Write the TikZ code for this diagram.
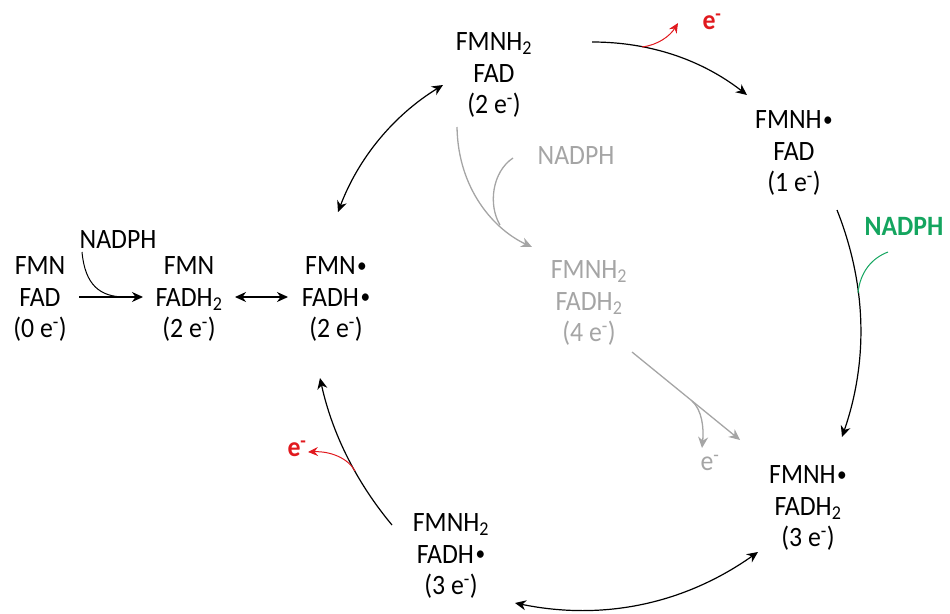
\documentclass[tikz,border=0pt]{standalone}
\usepackage{fontspec}
\setmainfont{Carlito}[FakeStretch=0.92]
\usetikzlibrary{arrows.meta}
\definecolor{myred}{RGB}{225,25,30}
\definecolor{mygreen}{RGB}{20,165,95}
\definecolor{mygrey}{RGB}{165,165,165}
\newcommand{\rdot}{\hspace{1.5pt}\raisebox{2.5pt}{\fontsize{21}{21}\selectfont •}}
\begin{document}
\begin{tikzpicture}[x=1pt,y=-1pt,
  sp/.style={align=center, inner sep=0pt, font=\fontsize{28}{31.5}\selectfont},
  lab/.style={inner sep=0pt, font=\fontsize{28}{31.5}\selectfont},
  tip/.tip={Stealth[length=11pt,width=10pt,inset=3.5pt]},
  arr/.style={line width=1.2pt, -tip},
  darr/.style={line width=1.2pt, tip-tip},
  branch/.style={line width=1pt},
  redarr/.style={line width=1pt, myred, -{Stealth[length=10pt,width=9pt,inset=3.5pt]}},
  greyarr/.style={line width=1.3pt, mygrey, -tip},
]
\useasboundingbox (0,0) rectangle (950,613);

% species
\node[sp] (A) at (40,299) {FMN\\FAD\\(0 e\textsuperscript{-})};
\node[sp] (B) at (189,299) {FMN\\FADH\textsubscript{2}\\(2 e\textsuperscript{-})};
\node[sp] (C) at (336,299) {FMN\rdot\\FADH\rdot\\(2 e\textsuperscript{-})};
\node[sp] (D) at (494,75) {FMNH\textsubscript{2}\\FAD\\(2 e\textsuperscript{-})};
\node[sp] (E) at (794,153) {FMNH\rdot\\FAD\\(1 e\textsuperscript{-})};
\node[sp,text=mygrey] (F) at (589,303) {FMNH\textsubscript{2}\\FADH\textsubscript{2}\\(4 e\textsuperscript{-})};
\node[sp] (G) at (808,508) {FMNH\rdot\\FADH\textsubscript{2}\\(3 e\textsuperscript{-})};
\node[sp] (H) at (451,556) {FMNH\textsubscript{2}\\FADH\rdot\\(3 e\textsuperscript{-})};

% labels
\node[lab] (n1) at (118,240) {NADPH};
\node[lab,text=mygrey] (n2) at (576,156) {NADPH};
\node[lab,text=mygreen,font=\fontsize{28}{31.5}\selectfont\bfseries] (n3) at (904,226) {NADPH};
\node[lab,text=myred,font=\fontsize{28}{31.5}\selectfont\bfseries] (e1) at (712,22) {e\textsuperscript{-}};
\node[lab,text=myred,font=\fontsize{28}{31.5}\selectfont\bfseries] (e2) at (297,449) {e\textsuperscript{-}};
\node[lab,text=mygrey] (e3) at (710,463) {e\textsuperscript{-}};

% connector end points
\coordinate (a1) at (79,297);  \coordinate (b1) at (143,297);
\coordinate (b2) at (235,297); \coordinate (c2) at (288,297);
\coordinate (c3) at (338,212); \coordinate (d3) at (443,85);
\coordinate (d4) at (592,42);  \coordinate (e4) at (747,95);
\coordinate (e5) at (837,210); \coordinate (g5) at (842,437);
\coordinate (g6) at (758,552); \coordinate (h6) at (515,603);
\coordinate (h7) at (392,525); \coordinate (c7) at (320,378);
\coordinate (d8) at (457,127); \coordinate (f8) at (532,247);
\coordinate (f9) at (632,352); \coordinate (g9) at (740,440);
% branch points
\coordinate (j1) at (82,252);  \coordinate (k1) at (125,297);
\coordinate (j4) at (642,47);  \coordinate (t4) at (678,23);
\coordinate (j5) at (858,293); \coordinate (t5) at (888,252);
\coordinate (j7) at (355,471); \coordinate (t7) at (308,452);
\coordinate (j8) at (513,158); \coordinate (k8) at (500,225);
\coordinate (j9) at (692,401); \coordinate (t9) at (702,448);

% main arrows
\draw[arr] (a1) -- (b1);
\draw[branch] (j1) .. controls (85,285) and (100,297) .. (k1);
\draw[darr] (b2) -- (c2);
\draw[darr] (c3) .. controls (358.6,157.8) and (393.6,115.4) .. (d3);
\draw[arr] (d4) .. controls (649.7,42) and (701.3,59.6) .. (e4);
\draw[redarr] (j4) .. controls (658,45) and (670,36) .. (t4);
\draw[arr] (e5) .. controls (866.7,285) and (868.3,360.7) .. (g5);
\draw[branch,mygreen] (j5) .. controls (860,272) and (872,258) .. (t5);
\draw[darr] (g6) .. controls (684.3,604) and (603.3,621) .. (h6);
\draw[arr] (h7) .. controls (356,481.9) and (332,432.9) .. (c7);
\draw[redarr] (j7) .. controls (348,458) and (330,451) .. (t7);

% grey pathway
\draw[greyarr] (d8) .. controls (458,190) and (495,230) .. (f8);
\draw[line width=1.3pt,mygrey] (j8) .. controls (492,172) and (488,205) .. (k8);
\draw[greyarr] (f9) -- (g9);
\draw[greyarr] (j9) .. controls (702,410) and (704,428) .. (t9);
\end{tikzpicture}
\end{document}
